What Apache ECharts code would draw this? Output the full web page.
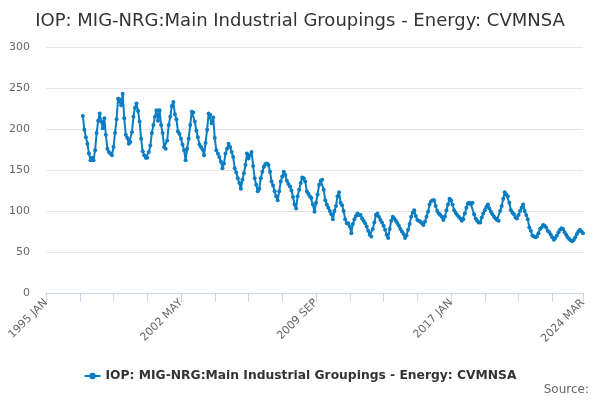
<!DOCTYPE html>
<html>
<head>
<meta charset="utf-8">
<script src="https://cdn.jsdelivr.net/npm/echarts@6/dist/echarts.min.js"></script>
<style>html,body{margin:0;padding:0;background:#fff}#c{width:600px;height:400px}</style>
</head>
<body>
<div id="c"></div>
<script>
var titleText = 'IOP: MIG-NRG:Main Industrial Groupings - Energy: CVMNSA';
var seriesName = 'IOP: MIG-NRG:Main Industrial Groupings - Energy: CVMNSA';
var monthNames = ['JAN','FEB','MAR','APR','MAY','JUN','JUL','AUG','SEP','OCT','NOV','DEC'];
var firstYear = 1995, lastYear = 2024, lastMonth = 2; // 2024 MAR
var leadingEmptyMonths = 24; // 1995 JAN - 1996 DEC have no data

var v1997_2000 = [
216,199,190,182,170,162,165,162,174,195,210,219,
209,201,213,193,176,172,170,168,178,195,212,237,
236,229,243,213,193,189,182,184,196,215,226,231,
222,209,188,173,168,165,165,172,180,195,205,215];
var v2001_2004 = [
223,210,223,205,195,178,176,186,205,215,228,233,
218,212,197,194,188,181,174,162,176,188,205,221,
220,209,198,190,181,178,175,168,183,199,219,217,
207,214,189,174,170,166,160,152,158,170,176,182];
var v2005_2008 = [
178,172,166,152,147,140,134,127,138,146,156,170,
164,168,172,155,140,132,124,127,140,148,154,157,
158,156,148,136,131,124,118,113,124,136,142,148,
144,137,133,130,125,117,108,103,118,126,134,141];
var v2009_2012 = [
140,136,124,121,118,116,108,99,110,120,132,137,
138,126,113,108,104,100,96,90,100,106,118,123,
110,107,100,90,85,85,81,73,84,90,94,97,
95,95,91,88,85,81,76,71,69,78,86,95];
var v2013_2016 = [
97,93,89,86,82,77,71,67,78,88,93,91,
88,85,82,78,75,72,67,70,77,84,93,98,
101,94,89,88,87,85,83,87,93,99,108,112,
113,113,106,100,97,95,93,89,93,101,108,115];
var v2017_2020 = [
113,108,101,98,95,93,91,88,90,97,104,109,
110,108,110,96,91,88,86,86,92,97,101,105,
108,103,99,96,93,91,89,88,100,106,115,123,
120,118,110,101,98,96,92,91,95,100,104,108];
var v2021_2024 = [
100,95,90,80,76,70,69,68,69,73,78,80,
83,82,80,76,74,71,68,65,67,70,74,77,
79,78,74,71,68,66,64,63,65,68,72,75,
77,75,73];

var categories = [];
for (var y = firstYear; y <= lastYear; y++) {
  for (var m = 0; m < 12; m++) {
    if (y === lastYear && m > lastMonth) break;
    categories.push(y + ' ' + monthNames[m]);
  }
}
var values = [];
for (var i = 0; i < leadingEmptyMonths; i++) values.push(null);
values = values.concat(v1997_2000, v2001_2004, v2005_2008, v2009_2012, v2013_2016, v2017_2020, v2021_2024);
var lastIdx = categories.length - 1;

var chart = echarts.init(document.getElementById('c'), null, {renderer: 'canvas'});
chart.setOption({
  animation: false,
  title: {
    text: titleText, left: 'center', top: 7,
    textStyle: {fontFamily: 'DejaVu Sans', fontSize: 18, fontWeight: 'normal', color: '#333'}
  },
  legend: {
    data: [seriesName], left: 'center', top: 365, itemWidth: 16, itemHeight: 8,
    textStyle: {fontFamily: 'DejaVu Sans', fontSize: 12.3, fontWeight: 'bold', color: '#333'}
  },
  graphic: [{
    type: 'text', right: 11, top: 384,
    style: {text: 'Source:', fill: '#666', font: '12px "DejaVu Sans"'}
  }],
  grid: {left: 46, right: 17, top: 47, bottom: 107},
  xAxis: {
    type: 'category', data: categories, boundaryGap: false,
    axisLine: {lineStyle: {color: '#ccd6eb'}},
    axisTick: {show: true, length: 9, lineStyle: {color: '#ccd6eb'},
      interval: function (idx) { return idx % 22 === 0 || idx === lastIdx; }},
    axisLabel: {rotate: 45, color: '#666', fontSize: 11, fontFamily: 'DejaVu Sans', margin: 8,
      interval: function (idx) { return idx % 88 === 0 || idx === lastIdx; }},
    splitLine: {show: false}
  },
  yAxis: {
    type: 'value', min: 0, max: 300, interval: 50,
    axisLine: {show: false}, axisTick: {show: false},
    axisLabel: {color: '#666', fontSize: 11, fontFamily: 'DejaVu Sans', margin: 16},
    splitLine: {lineStyle: {color: '#e6e6e6'}}
  },
  series: [{
    name: seriesName, type: 'line', data: values,
    symbol: 'circle', symbolSize: 4, showAllSymbol: true,
    lineStyle: {width: 2, color: '#0b7dc3'},
    itemStyle: {color: '#0b7dc3'}
  }]
});
</script>
</body>
</html>
